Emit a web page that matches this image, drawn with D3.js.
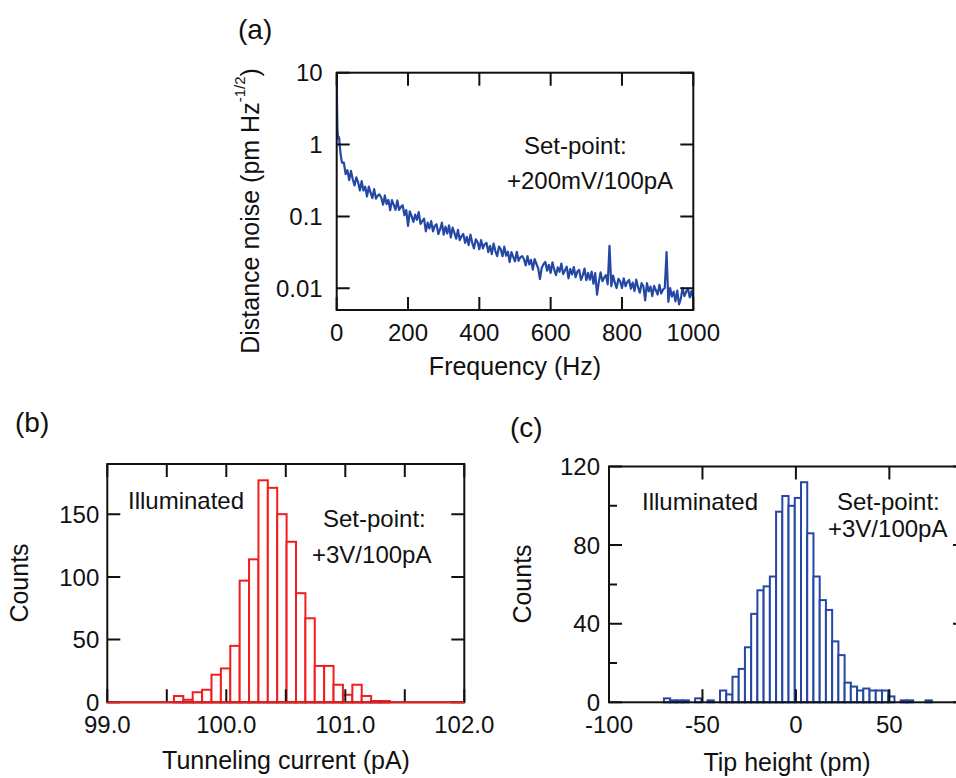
<!DOCTYPE html>
<html>
<head>
<meta charset="utf-8">
<script src="https://cdn.jsdelivr.net/npm/d3@7"></script>
<style>
  body { margin: 0; background: #fff; }
  svg text { font-family: "Liberation Sans", Arial, sans-serif; fill: #111; }
</style>
</head>
<body>
<svg id="fig" width="956" height="778"></svg>
<script>
// (a) distance noise spectrum
var noiseHz = [0, 1, 2, 3, 4, 5, 6, 7, 8, 9, 11, 13, 15,
  20, 25, 30, 35, 40, 45, 50, 55, 60, 65, 70, 75, 80, 85, 90, 95, 100, 105, 110, 115,
  120, 125, 130, 135, 140, 145, 150, 155, 160, 165, 170, 175, 180, 185, 190, 195, 200, 205, 210, 215,
  220, 225, 230, 235, 240, 245, 250, 255, 260, 265, 270, 275, 280, 285, 290, 295, 300, 305, 310, 315,
  320, 325, 330, 335, 340, 345, 350, 355, 360, 365, 370, 375, 380, 385, 390, 395, 400, 405, 410, 415,
  420, 425, 430, 435, 440, 445, 450, 455, 460, 465, 470, 475, 480, 485, 490, 495, 500, 505, 510, 515,
  520, 525, 530, 535, 540, 545, 550, 555, 560, 565, 570, 575, 580, 585, 590, 595, 600, 605, 610, 615,
  620, 625, 630, 635, 640, 645, 650, 655, 660, 665, 670, 675, 680, 685, 690, 695, 700, 705, 710, 715,
  720, 725, 730, 735, 740, 745, 750, 755, 760, 765, 770, 775, 780, 785, 790, 795, 800, 805, 810, 815,
  820, 825, 830, 835, 840, 845, 850, 855, 860, 865, 870, 875, 880, 885, 890, 895, 900, 905, 910, 915,
  920, 925, 930, 935, 940, 945, 950, 955, 960, 965, 970, 975, 980, 985, 990, 995, 1000];
var noisePm = [12, 3.6, 1.7, 1.4, 1.25, 1.2, 1.28, 1.22, 1.05, 0.92, 0.74, 0.63, 0.56,
  0.56, 0.39, 0.44, 0.32, 0.43, 0.33, 0.27, 0.35, 0.30, 0.23, 0.31, 0.23, 0.26, 0.19, 0.26, 0.215, 0.18, 0.24, 0.177, 0.196,
  0.202, 0.182, 0.146, 0.196, 0.149, 0.17, 0.122, 0.169, 0.145, 0.124, 0.167, 0.123, 0.136, 0.143, 0.104, 0.123, 0.074, 0.118, 0.101, 0.084,
  0.106, 0.09, 0.115, 0.079, 0.086, 0.093, 0.062, 0.082, 0.068, 0.086, 0.062, 0.074, 0.078, 0.057, 0.066, 0.082, 0.056, 0.072, 0.058, 0.075,
  0.051, 0.07, 0.059, 0.049, 0.065, 0.047, 0.053, 0.057, 0.043, 0.052, 0.04, 0.056, 0.043, 0.036, 0.048, 0.044, 0.035, 0.047, 0.036, 0.041,
  0.043, 0.032, 0.039, 0.030, 0.042, 0.033, 0.028, 0.038, 0.035, 0.028, 0.038, 0.0285, 0.0324, 0.0232, 0.0319, 0.0275, 0.0238, 0.0323, 0.0242, 0.027,
  0.028, 0.0256, 0.0208, 0.0281, 0.0216, 0.0249, 0.0182, 0.0255, 0.022, 0.019, 0.0135, 0.0194, 0.0217, 0.0234, 0.0176, 0.0213, 0.0164, 0.023, 0.0182, 0.0153,
  0.0196, 0.017, 0.0221, 0.0158, 0.0177, 0.02, 0.0138, 0.0186, 0.0156, 0.0198, 0.0143, 0.0171, 0.0181, 0.0131, 0.0152, 0.0188, 0.013, 0.0164, 0.0132, 0.0171,
  0.0116, 0.0163, 0.0082, 0.0122, 0.0167, 0.0126, 0.0141, 0.0153, 0.0114, 0.039, 0.0107, 0.0151, 0.012, 0.0101, 0.0136, 0.0125, 0.0101, 0.0138, 0.0107, 0.0123,
  0.0131, 0.0099, 0.012, 0.0092, 0.0132, 0.0104, 0.0087, 0.0118, 0.0107, 0.0068, 0.0118, 0.0091, 0.0106, 0.0078, 0.0108, 0.0094, 0.0082, 0.0112, 0.0085, 0.0096,
  0.0101, 0.032, 0.0065, 0.0101, 0.0077, 0.009, 0.0066, 0.0093, 0.006, 0.0072, 0.0101, 0.0078, 0.009, 0.0099, 0.0075, 0.0092, 0.0071];
var freqTicks = [0, 200, 400, 600, 800, 1000];
var noiseTicks = [0.01, 0.1, 1, 10];

// (b) tunneling current histogram
var currentBinStart = 99.56;
var currentBinWidth = 0.0789;
var currentCounts = [5, 2, 8, 10, 22, 27, 45, 97, 114, 177, 171, 150, 128, 87, 67, 29, 29, 14, 6, 14, 5, 1, 1];
var currentTicks = [99.0, 100.0, 101.0, 102.0];
var currentMinorTicks = [99.5, 100.5, 101.5];
var countTicksB = [0, 50, 100, 150];

// (c) tip height histogram
var heightBinStart = -70.6;
var heightBinWidth = 3.333;
var heightCounts = [2, 1, 1, 1, 0, 2, 0, 1, 0, 6, 4, 13, 17, 28, 45, 57, 59, 64, 97, 105, 100, 104, 112, 86,
  64, 52, 47, 31, 24, 10, 8, 6, 7, 6, 6, 6, 3, 0, 1, 1, 0, 0, 1];
var heightTicks = [-100, -50, 0, 50];
var countTicksC = [0, 40, 80, 120];
var countMinorC = [20, 60, 100];

var RED = "#f01e1e";
var BLUE = "#2448a4";
var INK = "#111";
var TICK_LEN = 13;

var svg = d3.select("#fig");

function frame(x, y, opt) {
  var x0 = x.range()[0], x1 = x.range()[1];
  var yBot = y.range()[0], yTop = y.range()[1];
  var yMinor = opt.yMinor || [];

  // tick marks point inward on all four sides
  var p = d3.path();
  opt.xTicks.concat(opt.xMinor || []).forEach(function (t) {
    var px = x(t);
    p.moveTo(px, yBot); p.lineTo(px, yBot - TICK_LEN);
    p.moveTo(px, yTop); p.lineTo(px, yTop + TICK_LEN);
  });
  opt.yTicks.concat(yMinor).forEach(function (t) {
    var py = y(t);
    var len = yMinor.indexOf(t) >= 0 ? 8 : TICK_LEN;
    p.moveTo(x0, py); p.lineTo(x0 + len, py);
    p.moveTo(x1, py); p.lineTo(x1 - len, py);
  });

  svg.append("path")
    .attr("d", p.toString())
    .attr("fill", "none")
    .attr("stroke", INK)
    .attr("stroke-width", 2);

  svg.append("rect")
    .attr("x", x0).attr("y", yTop)
    .attr("width", x1 - x0).attr("height", yBot - yTop)
    .attr("fill", "none").attr("stroke", INK).attr("stroke-width", 2);

  svg.append("g").selectAll("text").data(opt.xTicks).join("text")
    .attr("x", function (d) { return x(d); })
    .attr("y", yBot + 31)
    .attr("text-anchor", "middle")
    .attr("font-size", 24)
    .text(opt.xFmt);
  svg.append("g").selectAll("text").data(opt.yTicks).join("text")
    .attr("x", x0 - opt.yGap)
    .attr("y", function (d) { return y(d); })
    .attr("dy", "0.36em")
    .attr("text-anchor", "end")
    .attr("font-size", 24)
    .text(opt.yFmt);
}

function label(txt, x, y, size, anchor) {
  return svg.append("text").attr("x", x).attr("y", y)
    .attr("font-size", size || 24)
    .attr("text-anchor", anchor || "start")
    .text(txt);
}

function vlabel(x, y) {
  return svg.append("text")
    .attr("transform", "translate(" + x + "," + y + ") rotate(-90)")
    .attr("text-anchor", "middle")
    .attr("font-size", 25);
}

// ---------- (a) ----------
var xa = d3.scaleLinear().domain([0, 1000]).range([336.7, 693.3]);
var ya = d3.scaleLog().domain([0.005, 10]).range([310, 72.7]);

svg.append("clipPath").attr("id", "clipA").append("rect")
  .attr("x", 336.7).attr("y", 72.7).attr("width", 356.6).attr("height", 237.3);

var noiseLine = d3.line()
  .x(function (d, i) { return xa(noiseHz[i]); })
  .y(function (d) { return ya(d); });

svg.append("path")
  .attr("d", noiseLine(noisePm))
  .attr("clip-path", "url(#clipA)")
  .attr("fill", "none")
  .attr("stroke", BLUE)
  .attr("stroke-width", 2.2)
  .attr("stroke-linejoin", "round");

frame(xa, ya, {
  xTicks: freqTicks, yTicks: noiseTicks, yGap: 14,
  xFmt: function (d) { return d; },
  yFmt: function (d) { return String(d); }
});

label("(a)", 238, 39, 28);
label("Set-point:", 524, 154);
label("+200mV/100pA", 507, 189);
label("Frequency (Hz)", 515, 375, 25, "middle");
var ta = vlabel(259, 211);
ta.append("tspan").text("Distance noise (pm Hz");
ta.append("tspan").attr("font-size", 15).attr("dy", -14).text("-1/2");
ta.append("tspan").attr("dy", 14).text(")");

// ---------- (b) ----------
var xb = d3.scaleLinear().domain([99.0, 102.0]).range([107.3, 464.3]);
var yb = d3.scaleLinear().domain([0, 190]).range([702.3, 464]);

svg.append("g").selectAll("rect").data(currentCounts).join("rect")
  .attr("x", function (d, i) { return xb(currentBinStart + i * currentBinWidth); })
  .attr("width", xb(99 + currentBinWidth) - xb(99))
  .attr("y", function (d) { return yb(d); })
  .attr("height", function (d) { return yb(0) - yb(d); })
  .attr("fill", "#fff")
  .attr("stroke", RED)
  .attr("stroke-width", 2);

frame(xb, yb, {
  xTicks: currentTicks, xMinor: currentMinorTicks, yTicks: countTicksB, yGap: 8,
  xFmt: d3.format(".1f"),
  yFmt: function (d) { return d; }
});

svg.append("line")
  .attr("x1", xb(99)).attr("x2", xb(102))
  .attr("y1", yb(0)).attr("y2", yb(0))
  .attr("stroke", RED).attr("stroke-width", 2);

label("(b)", 15, 432, 28);
label("Illuminated", 128, 509);
label("Set-point:", 323, 527);
label("+3V/100pA", 312, 563);
label("Tunneling current (pA)", 286, 769, 25, "middle");
vlabel(28, 583).text("Counts");

// ---------- (c) ----------
var xc = d3.scaleLinear().domain([-100, 91]).range([609, 966]);
var yc = d3.scaleLinear().domain([0, 120]).range([702.3, 466.5]);

svg.append("g").selectAll("rect").data(heightCounts).join("rect")
  .attr("x", function (d, i) { return xc(heightBinStart + i * heightBinWidth); })
  .attr("width", xc(heightBinWidth) - xc(0))
  .attr("y", function (d) { return yc(d); })
  .attr("height", function (d) { return yc(0) - yc(d); })
  .attr("fill", "#fff")
  .attr("stroke", BLUE)
  .attr("stroke-width", 2);

frame(xc, yc, {
  xTicks: heightTicks, yTicks: countTicksC, yMinor: countMinorC, yGap: 9,
  xFmt: function (d) { return d; },
  yFmt: function (d) { return d; }
});

label("(c)", 510, 437, 28);
label("Illuminated", 642, 510);
label("Set-point:", 837, 510);
label("+3V/100pA", 828, 537);
label("Tip height (pm)", 787, 771, 25, "middle");
vlabel(531, 584).text("Counts");
</script>
</body>
</html>
